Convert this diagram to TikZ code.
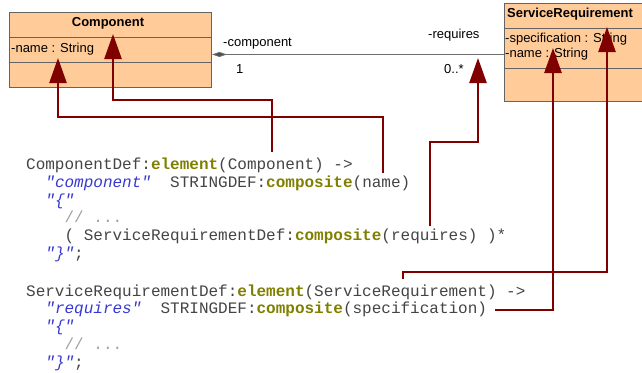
\documentclass[tikz,border=0pt]{standalone}
\usepackage{fontspec}
\setmainfont{Liberation Sans}
\setmonofont{Liberation Mono}
\usetikzlibrary{arrows.meta}
\definecolor{umlfill}{RGB}{255,204,153}
\definecolor{umlline}{RGB}{100,100,100}
\definecolor{assoc}{RGB}{110,110,110}
\definecolor{arrowred}{RGB}{128,0,0}
\definecolor{kwcol}{RGB}{128,128,0}
\definecolor{strcol}{RGB}{55,55,210}
\definecolor{cmtcol}{RGB}{160,160,160}
\definecolor{codecol}{RGB}{68,68,68}
\newcommand\codekw[1]{{\bfseries\color{kwcol}#1}}
\newcommand\codestr[1]{{\itshape\color{strcol}#1}}
\newcommand\codecmt[1]{{\color{cmtcol}#1}}
\begin{document}
\begin{tikzpicture}[x=1pt,y=-1pt,
  code/.style={anchor=base west, inner sep=0pt, font=\ttfamily\fontsize{16}{18}\selectfont, text=codecol},
  umltext/.style={anchor=base west, inner sep=0pt, font=\fontsize{13}{15}\selectfont, text=black},
  umlbox/.style={draw=umlline, fill=umlfill, line width=0.9pt, inner sep=0pt, anchor=north west},
  divider/.style={draw=umlline, line width=0.9pt},
  link/.style={draw=arrowred, line width=2.5pt, -{Triangle[length=25pt,width=17pt]}},
]
\useasboundingbox (0,0) rectangle (642,372);
\clip (0,0) rectangle (642,372);

% UML classes
\node[umlbox, minimum width=202pt, minimum height=75pt] (comp) at (9,12) {};
\draw[divider] ([yshift=-25pt]comp.north west) -- ([yshift=-25pt]comp.north east);
\draw[divider] ([yshift=-50pt]comp.north west) -- ([yshift=-50pt]comp.north east);
\node[umltext, anchor=base, font=\bfseries\fontsize{13}{15}\selectfont] (compname) at (108,26) {Component};
\node[umltext] (compattr) at (11,52.7) {-name : String};

\node[umlbox, minimum width=180pt, minimum height=98pt] (sr) at (504,3) {};
\draw[divider] ([yshift=-25pt]sr.north west) -- ([yshift=-25pt]sr.north east);
\draw[divider] ([yshift=-65pt]sr.north west) -- ([yshift=-65pt]sr.north east);
\node[umltext, font=\bfseries\fontsize{13}{15}\selectfont] (srname) at (507,17.3) {ServiceRequirement};
\node[umltext] (srattr1) at (505,42.3) {-specification : String};
\node[umltext] (srattr2) at (505,57.3) {-name : String};

% association
\draw[draw=assoc, line width=0.9pt, {Diamond[length=15pt,width=5pt,fill=assoc!70!black]}-]
  ([yshift=-4.5pt]comp.east) -- ([yshift=-4.5pt]comp.east -| sr.west);
\node[umltext] (rolec) at (223,46) {-component};
\node[umltext] (mult1) at (236,73) {1};
\node[umltext] (roler) at (428,38.3) {-requires};
\node[umltext] (multn) at (444,73) {0..*};

% code
\node[code] (c1) at (26,169.3) {ComponentDef:\codekw{element}(Component) ->};
\node[code] (c2) at (45.2,187.2) {\codestr{"component"}\ \ STRINGDEF:\codekw{composite}(name)};
\node[code] (c3) at (45.2,205) {\codestr{"\{"}};
\node[code] (c4) at (64.4,222.9) {\codecmt{// ...}};
\node[code] (c5) at (64.4,240.7) {( ServiceRequirementDef:\codekw{composite}(requires) )*};
\node[code] (c6) at (45.2,258.6) {\codestr{"\}"};};

\node[code] (d1) at (26,296) {ServiceRequirementDef:\codekw{element}(ServiceRequirement) ->};
\node[code] (d2) at (45.2,313.9) {\codestr{"requires"}\ \ STRINGDEF:\codekw{composite}(specification)};
\node[code] (d3) at (45.2,331.7) {\codestr{"\{"}};
\node[code] (d4) at (64.4,349.6) {\codecmt{// ...}};
\node[code] (d5) at (45.2,367.4) {\codestr{"\}"};};

% mapping arrows
\coordinate (s1) at (383,173);  \coordinate (t1) at (58,58);
\coordinate (s2) at (272,152);  \coordinate (t2) at (113,34);
\coordinate (s3) at (430,226);  \coordinate (t3) at (478,58);
\coordinate (s4) at (495,310);  \coordinate (t4) at (553,48);
\coordinate (s5) at (403,279);  \coordinate (t5) at (607,27);

\draw[link] (s1) |- (58,117) -- (t1);
\draw[link] (s2) |- (113,100) -- (t2);
\draw[link] (s3) |- (478,142) -- (t3);
\draw[link] (s4) -| (t4);
\draw[link] (s5) |- (607,272) -- (t5);
\end{tikzpicture}
\end{document}
